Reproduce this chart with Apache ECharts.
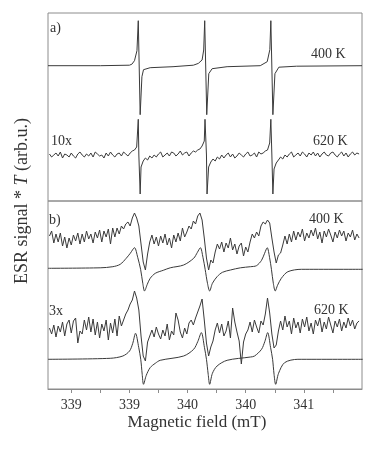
<!DOCTYPE html>
<html>
<head>
<meta charset="utf-8">
<script src="https://cdn.jsdelivr.net/npm/echarts@6/dist/echarts.min.js"></script>
<style>
  html, body { margin: 0; padding: 0; background: #ffffff; }
  #chart { width: 374px; height: 451px; }
</style>
</head>
<body>
<div id="chart"></div>
<script>
  // magnetic field sweep of the recorded spectra (mT)
  let fieldStart = 338.85;
  let fieldStep = 0.015;

  // axis ticks (labels are rounded to integer mT as in the figure)
  let tickValues = [339.0, 339.2, 339.4, 339.6, 339.8, 340.0, 340.2, 340.4, 340.6, 340.8];
  let labelValues = [339.0, 339.4, 339.8, 340.2, 340.6];

  // a) 400 K, clean spectrum [field, signal]
  let a400 = [
    [338.84, 0], [339.20, 0], [339.40, 0.5], [339.417, 1.5], [339.435, 5], [339.452, 15],
    [339.461, 45], [339.474, -49], [339.486, -11], [339.497, -4], [339.543, -2], [339.70, -1],
    [339.84, 0.5], [339.874, 2.3], [339.900, 5.7], [339.911, 15.7], [339.918, 45], [339.932, -49],
    [339.946, -8], [339.969, -3], [340.072, -1], [340.30, 0], [340.348, 4], [340.366, 16],
    [340.373, 45], [340.387, -49], [340.401, -8], [340.428, -1.5], [340.55, -0.5], [341.0, 0]
  ];

  // a) 620 K (x10), noisy trace on the sweep grid + line extrema
  let a620 = [
    1, -2, 0, 2, -1, 3, -3, 1, 0, -2,
    2, -1, -3, 1, 3, 0, -2, 1, -1, 2,
    -2, 3, 1, -1, 0, -3, 2, -1, 3, 0,
    -2, 1, 2, -1, 3, 1, -1, 2, 4, 5,
    8, 0, -12, -6, -3, -5, -1, -3, 0, -2,
    1, 3, -2, 0, 2, -1, 3, 2, -1, 1,
    4, 0, 2, 3, -1, 2, 4, 3, 5, 6,
    9, 14, 0, -12, -7, -4, -6, -2, -4, 0,
    -3, 0, 2, -2, 1, -3, -1, 2, 0, -2,
    1, 3, -1, 0, 2, -2, 3, 1, 2, 4,
    5, 12, 0, -14, -8, -5, -2, -4, 0, -2,
    1, 3, -2, 0, 2, -1, 3, 1, -2, 2,
    0, 3, -1, 2, -2, 1, 3, 0, -1, 2,
    3, 0, -2, 1, 3, -1, 2, -2, 1, 3, 0, 2, 1
  ];
  let a620Lines = [
    [339.461, 35.7], [339.474, -39],
    [339.920, 35.7], [339.934, -39],
    [340.373, 35.7], [340.387, -39]
  ];

  // b) 400 K measured
  let b400 = [
    4, 9, -3, 6, -2, 7, -6, 3, -8, 2,
    -5, 5, -1, 7, -4, 6, -2, 9, 1, 6,
    -3, 8, 2, 10, -2, 9, 3, 11, -4, 12,
    3, 12, 6, 14, 11, 16, 18, 14, 22, 27,
    22, 14, -4, -22, -30, -14, -2, 5, -4, 3,
    -6, 4, -3, 6, -5, 2, -8, 5, -2, 7,
    -1, 12, 3, 8, 14, 11, 19, 16, 24, 27,
    20, 2, -18, -30, -20, -23, -12, -4, -9, -2,
    -12, -3, -8, 2, -10, -4, -14, -6, -3, -16,
    -7, -12, -2, 6, 2, 8, 4, 14, 18, 16,
    20, 17, 2, -12, -23, -15, -13, -5, 4, -4,
    6, -2, 9, 0, 8, 3, 11, -1, 7, 2,
    10, 4, 12, 1, 8, -3, 9, 3, 11, 5,
    -2, 8, 2, 10, 4, 9, -1, 7, 3, 10, 0, 6, 2
  ];

  // b) 400 K simulation [field, signal]
  let b400Fit = [
    [338.840, 1], [339.199, 1.5], [339.286, 2.6], [339.337, 5], [339.378, 11], [339.406, 16],
    [339.435, 21.6], [339.457, 12], [339.477, 0], [339.492, -14], [339.504, -21.7], [339.523, -15],
    [339.543, -9], [339.578, -4], [339.633, -1], [339.681, 1.5], [339.773, 4.3], [339.842, 11],
    [339.868, 17], [339.888, 21.6], [339.906, 12], [339.921, 0], [339.937, -14], [339.952, -21.7],
    [339.971, -14], [340.003, -7.4], [340.040, -3], [340.095, -0.7], [340.164, 1.5], [340.233, 2.6],
    [340.274, 3.6], [340.309, 9], [340.330, 16], [340.348, 21.6], [340.364, 12], [340.377, 0],
    [340.390, -14], [340.403, -21.7], [340.419, -16], [340.445, -9], [340.490, -2.4], [340.583, 0],
    [341.005, 0]
  ];

  // b) 620 K measured (x3)
  let b620 = [
    0, -6, 3, -9, 2, -4, 6, -8, 4, 8,
    -5, 7, 10, -15, -3, -6, 8, -2, 11, -4,
    9, -7, 6, -10, 4, -3, 8, -12, 5, -5,
    9, -8, 12, 2, 8, 14, 18, 24, 28, 37,
    30, 18, -8, -28, -33, -14, -8, -2, -9, 1,
    -6, -11, -2, -8, 4, -12, -3, -7, 15, 8,
    -4, -10, 0, -6, 5, 8, 3, 10, 16, 22,
    29, 8, -15, -28, -19, -13, -2, 5, -5, 4,
    -8, -3, 7, -10, 20, 6, -4, -13, -36, -14,
    -6, -2, 6, -4, 8, 1, -5, 7, 3, 14,
    30, 15, -6, -20, -17, -3, 7, -2, 12, 1,
    7, -6, 10, 0, 6, -5, 9, 1, 11, -3,
    5, -6, 8, 2, 10, -4, 6, -1, 11, 3,
    -5, 7, 1, 9, -3, 6, 0, 10, 2, 8, -1, 5, 7
  ];

  // b) 620 K simulation [field, signal]
  let b620Fit = [
    [338.840, 0], [339.268, 1], [339.355, 3.3], [339.401, 8.3], [339.423, 16], [339.442, 26],
    [339.464, 12], [339.478, 0], [339.488, -15], [339.497, -25], [339.516, -16], [339.543, -8.3],
    [339.578, -4], [339.612, -1], [339.773, 3.3], [339.842, 10], [339.871, 18], [339.895, 26.7],
    [339.916, 12], [339.930, 0], [339.942, -15], [339.952, -25], [339.971, -14], [340.003, -6.7],
    [340.072, -1], [340.233, 2.3], [340.261, 3.3], [340.309, 10], [340.332, 18], [340.351, 26.7],
    [340.371, 12], [340.385, 0], [340.395, -15], [340.406, -25], [340.426, -14], [340.468, -3.3],
    [340.559, 0], [341.005, 0]
  ];

  let lineColor = '#3a3a3a';
  let frameColor = '#8c8c8c';
  let textColor = '#333333';
  let serif = '"Liberation Serif", "DejaVu Serif", serif';

  //把扫描网格上的数据转换成 [field, value]
  function onGrid(values, offset) {
    return values.map(function (v, i) {
      return [fieldStart + i * fieldStep, offset + v];
    });
  }

  function shift(points, offset) {
    return points.map(function (p) {
      return [p[0], offset + p[1]];
    });
  }

  function trace(data, axis, smooth) {
    return {
      type: 'line',
      xAxisIndex: axis,
      yAxisIndex: axis,
      data: data,
      showSymbol: false,
      smooth: smooth || false,
      lineStyle: { color: lineColor, width: 1 },
      silent: true
    };
  }

  let a620Data = onGrid(a620, 46).concat(shift(a620Lines, 46));
  a620Data.sort(function (p, q) { return p[0] - q[0]; });

  let xBase = {
    type: 'value',
    min: 338.84,
    max: 341.0,
    splitLine: { show: false }
  };

  let chart = echarts.init(document.getElementById('chart'));
  chart.setOption({
    backgroundColor: '#ffffff',
    animation: false,
    grid: [
      { left: 48, right: 12, top: 13, height: 188, show: true, borderColor: frameColor, borderWidth: 1 },
      { left: 48, right: 12, top: 201, height: 188, show: true, borderColor: frameColor, borderWidth: 1 }
    ],
    xAxis: [
      Object.assign({}, xBase, {
        gridIndex: 0,
        axisLine: { show: false },
        axisTick: { show: false },
        axisLabel: { show: false }
      }),
      Object.assign({}, xBase, {
        gridIndex: 1,
        axisLine: { show: true, lineStyle: { color: frameColor, width: 1 } },
        axisTick: {
          show: true,
          inside: false,
          length: 4,
          customValues: tickValues,
          lineStyle: { color: frameColor }
        },
        axisLabel: {
          show: true,
          customValues: labelValues,
          margin: 9,
          fontFamily: serif,
          fontSize: 14,
          color: textColor,
          formatter: function (v) { return Math.round(v) + ''; }
        }
      })
    ],
    yAxis: [
      { type: 'value', gridIndex: 0, min: 0, max: 188, show: false },
      { type: 'value', gridIndex: 1, min: 0, max: 188, show: false }
    ],
    series: [
      trace(shift(a400, 135.3), 0),
      trace(a620Data, 0),
      trace(onGrid(b400, 149), 1),
      trace(shift(b400Fit, 119.7), 1, 0.3),
      trace(onGrid(b620, 61), 1),
      trace(shift(b620Fit, 29.7), 1, 0.3)
    ],
    graphic: [
      { type: 'text', left: 50, top: 21, style: { text: 'a)', font: '14px ' + serif, fill: textColor } },
      { type: 'text', left: 311, top: 47, style: { text: '400 K', font: '14px ' + serif, fill: textColor } },
      { type: 'text', left: 51, top: 134, style: { text: '10x', font: '14px ' + serif, fill: textColor } },
      { type: 'text', left: 313, top: 134, style: { text: '620 K', font: '14px ' + serif, fill: textColor } },
      { type: 'text', left: 49, top: 213, style: { text: 'b)', font: '14px ' + serif, fill: textColor } },
      { type: 'text', left: 309, top: 212, style: { text: '400 K', font: '14px ' + serif, fill: textColor } },
      { type: 'text', left: 49, top: 304, style: { text: '3x', font: '14px ' + serif, fill: textColor } },
      { type: 'text', left: 314, top: 303, style: { text: '620 K', font: '14px ' + serif, fill: textColor } },
      {
        type: 'text',
        x: 197, y: 423,
        style: {
          text: 'Magnetic field (mT)',
          font: '17px ' + serif,
          fill: textColor,
          align: 'center',
          verticalAlign: 'middle'
        }
      },
      {
        type: 'text',
        x: 22, y: 201,
        rotation: Math.PI / 2,
        style: {
          text: '{a|ESR signal * }{b|T}{a| (arb.u.)}',
          align: 'center',
          verticalAlign: 'middle',
          rich: {
            a: { fontFamily: serif, fontSize: 18, fill: textColor, color: textColor },
            b: { fontFamily: serif, fontSize: 18, fontStyle: 'italic', fill: textColor, color: textColor }
          }
        }
      }
    ]
  });
</script>
</body>
</html>
